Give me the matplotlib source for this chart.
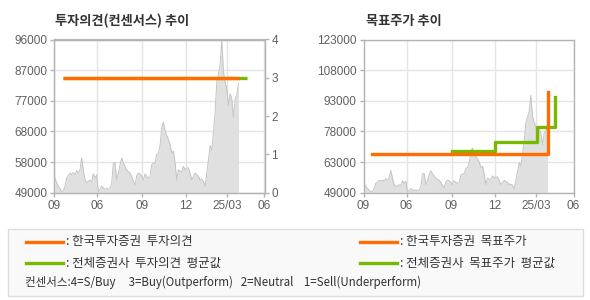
import matplotlib
matplotlib.use("Agg")
import matplotlib.pyplot as plt
import numpy as np
from matplotlib.patches import Rectangle
from matplotlib.lines import Line2D

plt.rcParams['font.family'] = ['Noto Sans CJK KR', 'DejaVu Sans']

# ---------------- data ----------------
price = [53500, 52000, 51000, 50300, 49300, 49600, 50900, 53500, 54200, 55000,
         54500, 55200, 54500, 55800, 55000, 56000, 59700, 56000, 52900, 52100,
         52400, 52900, 52400, 54800, 53500, 54500, 49300, 50000, 51100, 50400,
         50000, 50400, 50000, 50400, 51900, 58100, 58300, 52900, 55000, 57600,
         59600, 58100, 57100, 56000, 55500, 55000, 54000, 52400, 51400, 54200,
         55000, 54800, 54000, 52900, 54800, 54000, 53500, 54000, 57600, 58100,
         58100, 60700, 61200, 63300, 69000, 70600, 68000, 66500, 65400, 63800,
         61200, 61800, 58100, 52900, 56000, 55500, 55500, 57100, 56000, 56600,
         56600, 55000, 52900, 54000, 55000, 54500, 54000, 52900, 53200, 52400,
         51000, 55000, 59000, 63500, 62000, 67500, 73700, 83000, 85600, 88200,
         96000, 86000, 83000, 81000, 75800, 79400, 77800, 72100, 77800, 78900,
         82500]
price_x = np.arange(len(price))

xtick_pos = [-0.4, 25.4, 52.4, 78.4, 103.2, 125.6]
xtick_labels = ["09", "06", "09", "12", "25/03", "06"]

# investment opinion (consensus) steps
op_kis_x = [5.0, 110.2]
op_kis_y = [3, 3]
op_all_x = [5.0, 115.0]
op_all_y = [3, 3]

# target prices (steps-post)
tp_kis_x = [4.7, 110.1]
tp_kis_y = [67700, 97500]
tp_all_x = [52.5, 78.5, 103.5, 114.5]
tp_all_y = [69100, 73600, 80900, 95100]

left_yticks = ["49000", "58000", "68000", "77000", "87000", "96000"]
right_yticks = ["49000", "63000", "78000", "93000", "108000", "123000"]
op_ticks = ["0", "1", "2", "3", "4"]

ORANGE = "#ff6d00"
GREEN = "#76b900"
TICKC = "#606060"
SPINE = "#b4b4b4"
GRID = "#e4e4e4"
TICKFONT = ['Liberation Sans', 'DejaVu Sans']

fig = plt.figure(figsize=(5.9, 3.0), dpi=100)

def style(ax):
    for s in ax.spines.values():
        s.set_color(SPINE)
        s.set_linewidth(1.0)
    ax.grid(True, color=GRID, linewidth=1.0)
    ax.set_axisbelow(True)
    ax.tick_params(colors=SPINE, labelcolor=TICKC, labelsize=8.5, length=3, width=1, pad=2)
    for lab in ax.get_xticklabels() + ax.get_yticklabels():
        lab.set_family(TICKFONT)

def price_area(ax, ymin):
    ax.fill_between(price_x, ymin, price, color="#e0e0e0", linewidth=0)
    ax.plot(price_x, price, color="#c4c4c4", linewidth=0.7)

# ---------- left chart ----------
ax1 = fig.add_axes([54.3/590, 1-192.7/300, 210.2/590, 153.2/300])
ax1.set_xlim(xtick_pos[0], xtick_pos[-1])
ax1.set_ylim(49000, 96000)
ax1.set_yticks(np.linspace(49000, 96000, 6))
ax1.set_yticklabels(left_yticks)
ax1.set_xticks(xtick_pos)
ax1.set_xticklabels(xtick_labels)
price_area(ax1, 49000)
style(ax1)

ax1b = ax1.twinx()
ax1b.set_ylim(0, 4)
ax1b.set_yticks(range(5))
ax1b.set_yticklabels(op_ticks)
ax1b.plot(op_all_x, op_all_y, color=GREEN, linewidth=2.4, solid_capstyle='butt')
ax1b.plot(op_kis_x, op_kis_y, color=ORANGE, linewidth=2.4, solid_capstyle='butt')
for s in ax1b.spines.values():
    s.set_color(SPINE)
ax1b.tick_params(colors=SPINE, labelcolor=TICKC, labelsize=8.5, length=3, width=1, pad=2)
for lab in ax1b.get_yticklabels():
    lab.set_family(TICKFONT)

fig.text(55/590, 1-20.5/300, "투자의견(컨센서스) 추이", fontsize=9.5, fontweight='bold',
         color="#333333", va='center', ha='left')

# ---------- right chart ----------
ax2 = fig.add_axes([363.5/590, 1-192.7/300, 210/590, 153.2/300])
ax2.set_xlim(xtick_pos[0], xtick_pos[-1])
ax2.set_ylim(49000, 123000)
ax2.set_yticks(np.linspace(49000, 123000, 6))
ax2.set_yticklabels(right_yticks)
ax2.set_xticks(xtick_pos)
ax2.set_xticklabels(xtick_labels)
price_area(ax2, 49000)
ax2.plot(tp_all_x, tp_all_y, drawstyle='steps-post', color=GREEN, linewidth=2.4)
ax2.plot(tp_kis_x, tp_kis_y, drawstyle='steps-post', color=ORANGE, linewidth=2.4)
style(ax2)

fig.text(366/590, 1-20.5/300, "목표주가 추이", fontsize=9.5, fontweight='bold',
         color="#333333", va='center', ha='left')

# ---------- legend box ----------
box = Rectangle((8/590, 1-296/300), 575/590, 67/300, transform=fig.transFigure,
                facecolor="#f9f9f9", edgecolor="#dddddd", linewidth=1.0)
fig.patches.append(box)

def leg_item(x0, y, color, text):
    fig.add_artist(Line2D([x0/590, (x0+37)/590], [1-y/300, 1-y/300],
                          color=color, linewidth=2.4, transform=fig.transFigure))
    fig.text((x0+40)/590, 1-y/300, ": " + text, fontsize=9, color="#333333",
             va='center', ha='left')

leg_item(25.5, 242, ORANGE, "한국투자증권  투자의견")
leg_item(25.5, 263, GREEN, "전체증권사  투자의견  평균값")
leg_item(359.5, 242, ORANGE, "한국투자증권  목표주가")
leg_item(359.5, 263, GREEN, "전체증권사  목표주가  평균값")
fig.text(25/590, 1-282/300,
         "컨센서스:4=S/Buy     3=Buy(Outperform)   2=Neutral    1=Sell(Underperform)",
         fontsize=8.3, color="#333333", va='center', ha='left')

fig.savefig("out.png", dpi=100)
